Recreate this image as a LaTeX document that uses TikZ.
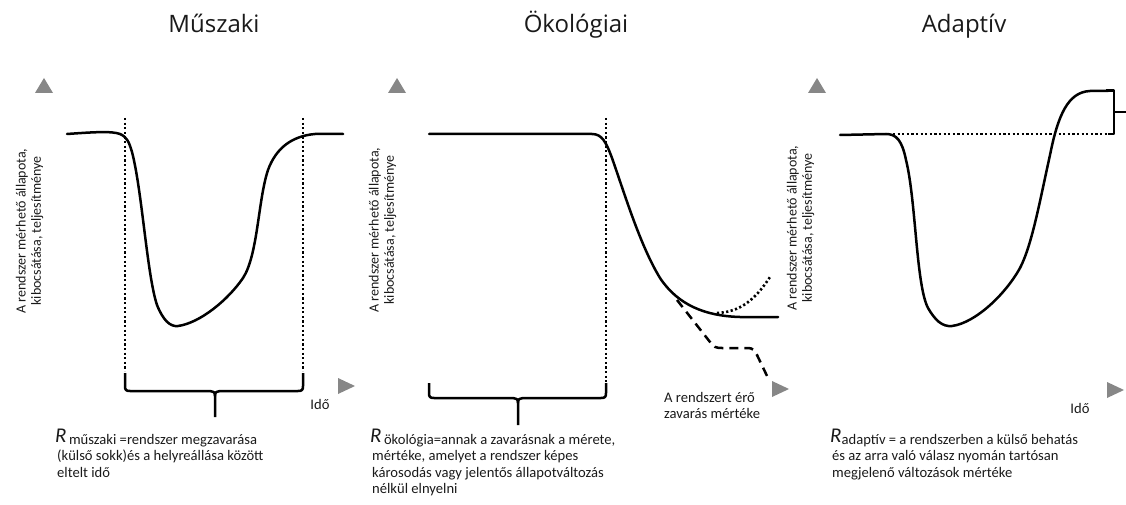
\documentclass[tikz,border=0pt]{standalone}
\usepackage{fontspec}
\setmainfont{Carlito}
\newfontfamily\titlefont{Open Sans}
\definecolor{arrowgray}{HTML}{878787}
\definecolor{txt}{HTML}{1A1A1A}
\tikzset{
  curve/.style={line width=2.5pt, line join=round, line cap=round},
  dotline/.style={line width=2.6pt, dash pattern=on 2.2pt off 2.4pt},
  dashline/.style={line width=2.5pt, dash pattern=on 9pt off 6pt},
  brace/.style={line width=2.5pt, line join=round},
  title/.style={font=\titlefont\fontsize{24}{28}\selectfont, text=txt, inner sep=0pt, anchor=base},
  ylab/.style={rotate=90, align=center, font=\fontsize{14}{15.2}\selectfont, text=txt, inner sep=0pt},
  desc/.style={align=left, font=\fontsize{14.6}{16.5}\selectfont, text=txt, inner sep=0pt, anchor=north west},
  small/.style={font=\fontsize{14.6}{15.5}\selectfont, text=txt, inner sep=0pt},
}
\newcommand{\uptri}[2]{\fill[arrowgray] (#1-9,#2+7) -- (#1+9,#2+7) -- (#1,#2-8) -- cycle;}
\newcommand{\righttri}[2]{\fill[arrowgray] (#1-8,#2-8) -- (#1-8,#2+8) -- (#1+9,#2) -- cycle;}
\newcommand{\bigR}{\raisebox{2pt}{\fontsize{21}{21}\selectfont\itshape R}}
\begin{document}
\begin{tikzpicture}[x=1pt,y=-1pt]
\useasboundingbox (0,0) rectangle (1126,505);

% ---------- titles ----------
\node[title] (t1) at (214,33) {Műszaki};
\node[title] (t2) at (576,33) {Ökológiai};
\node[title] (t3) at (964,33) {Adaptív};

% ---------- axis arrows ----------
\uptri{44}{86}
\righttri{346}{386}
\uptri{397}{86}
\righttri{780}{389}
\uptri{817}{86}
\righttri{1115}{390}

% ---------- y labels ----------
\node[ylab] (y1) at (29.5,231) {A rendszer mérhető állapota,\\kibocsátása, teljesítménye};
\node[ylab] (y2) at (382.5,230) {A rendszer mérhető állapota,\\kibocsátása, teljesítménye};
\node[ylab] (y3) at (800.5,228) {A rendszer mérhető állapota,\\kibocsátása, teljesítménye};

% ---------- panel 1 ----------
\draw[dotline] (125,118) -- (125,371);
\draw[dotline] (303,118) -- (303,371);
\draw[curve] (67,134) .. controls (95,132) and (112,131) .. (120,134)
  .. controls (127,137) and (129,142) .. (132,152)
  .. controls (142,190) and (147,275) .. (157,305)
  .. controls (163,320) and (170,327) .. (178,326)
  .. controls (200,323) and (228,300) .. (243,278)
  .. controls (258,255) and (258,200) .. (268,170)
  .. controls (276,148) and (292,136) .. (315,134) -- (343,134);
\draw[brace] (125,373) -- (125,386) .. controls (125,390) and (126,391) .. (130,391)
  -- (210,391) .. controls (213,391) and (215,392) .. (215,396) -- (215,417);
\draw[brace] (303,373) -- (303,386) .. controls (303,390) and (302,391) .. (298,391)
  -- (220,391) .. controls (217,391) and (215,392) .. (215,396);
\node[small] (ido1) at (320,404) {Idő};
\node[desc] (d1) at (55,428.5) {\bigR\,műszaki =rendszer megzavarása\\
  \hspace*{2pt}(külső sokk)és a helyreállása között\\
  \hspace*{2pt}eltelt idő};

% ---------- panel 2 ----------
\draw[dotline] (606,118) -- (606,382);
\draw[curve] (429,134) -- (592,134) .. controls (602,134) and (606,142) .. (612,158)
  .. controls (625,195) and (640,245) .. (660,278)
  .. controls (678,305) and (705,316) .. (740,317) -- (778,317);
\draw[dotline] (717,313) .. controls (740,312) and (755,300) .. (770,277);
\draw[dashline] (677,300) -- (710,342) .. controls (713,347) and (716,348) .. (722,348)
  -- (748,348) .. controls (752,348) and (755,350) .. (757,355) -- (768,378);
\draw[brace] (429,383) -- (429,393) .. controls (429,397) and (430,398) .. (434,398)
  -- (513,398) .. controls (516,398) and (518,399) .. (518,403) -- (518,425);
\draw[brace] (606,383) -- (606,393) .. controls (606,397) and (605,398) .. (601,398)
  -- (523,398) .. controls (520,398) and (518,399) .. (518,403);
\node[small, anchor=west, align=left] (lab2) at (664,405.5) {A rendszert érő\\zavarás mértéke};
\node[desc] (d2) at (370,428.5) {\bigR\,ökológia=annak a zavarásnak a mérete,\\
  \hspace*{2pt}mértéke, amelyet a rendszer képes\\
  \hspace*{2pt}károsodás vagy jelentős állapotváltozás\\
  \hspace*{2pt}nélkül elnyelni};

% ---------- panel 3 ----------
\draw[dotline] (893,134) -- (1110,134);
\draw[curve] (840,135) -- (886,134) .. controls (896,134) and (902,140) .. (906,160)
  .. controls (916,200) and (916,285) .. (928,308)
  .. controls (935,320) and (942,327) .. (952,326)
  .. controls (975,323) and (1005,295) .. (1020,268)
  .. controls (1032,245) and (1040,200) .. (1050,155)
  .. controls (1058,115) and (1068,92) .. (1090,91) -- (1108,91);
\draw[brace] (1106,90.5) -- (1114,90.5) -- (1114,134) -- (1108,134);
\draw[brace] (1114,112) -- (1126,112);
\node[small] (ido3) at (1080,408) {Idő};
\node[desc] (d3) at (830,428.5) {\bigR adaptív = a rendszerben a külső behatás\\
  \hspace*{2pt}és az arra való válasz nyomán tartósan\\
  \hspace*{2pt}megjelenő változások mértéke};
\end{tikzpicture}
\end{document}
